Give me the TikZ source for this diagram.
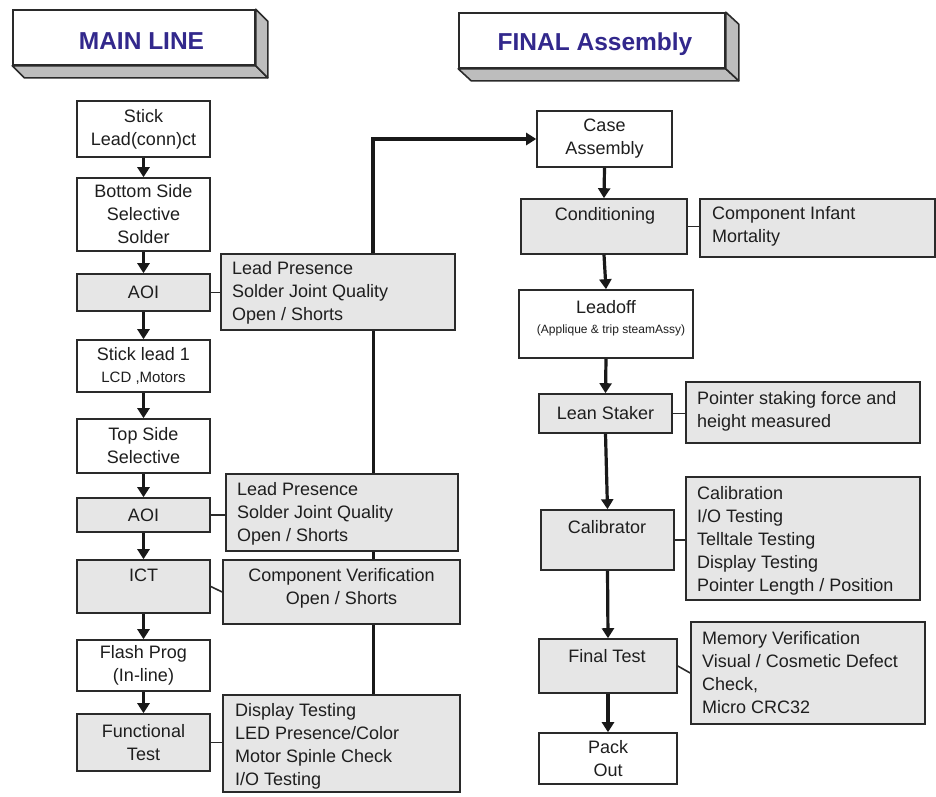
\documentclass[tikz,border=0pt]{standalone}
\usepackage{fontspec}
\setmainfont{Liberation Sans}
\usetikzlibrary{arrows.meta,backgrounds,calc}
\definecolor{bordc}{HTML}{2A2A2A}
\definecolor{boxg}{HTML}{E6E6E6}
\definecolor{shadg}{HTML}{BDBDBD}
\definecolor{headc}{RGB}{50,40,140}
\definecolor{txtc}{HTML}{1E1E1E}
\begin{document}
\begin{tikzpicture}[x=1pt,y=-1pt,
  every node/.style={text=txtc},
  fs/.style={font=\fontsize{18}{23}\selectfont},
  wbox/.style={draw=bordc, line width=1.6pt, fill=white, inner sep=0pt, align=center, fs},
  gbox/.style={wbox, fill=boxg},
  txt/.style={inner sep=0pt, align=left, fs, anchor=west},
  ctxt/.style={inner sep=0pt, align=center, fs},
  arr/.style={line width=3.2pt, draw=black!90, -{Triangle[length=10pt,width=12pt]}},
  con/.style={line width=1.6pt, draw=bordc},
  bus/.style={line width=3pt, draw=black!90},
  headbox/.style={draw=bordc, line width=1.6pt, fill=white, inner sep=0pt},
  headtxt/.style={inner sep=0pt, font=\fontsize{24.5}{28}\selectfont\bfseries, text=headc},
  face/.style={fill=shadg, draw=bordc, line width=1.6pt, line join=round}
]
\useasboundingbox (0,0) rectangle (936,796);

% headers
\node[headbox, minimum width=242pt, minimum height=55pt] (h1) at (134,37.5) {};
\filldraw[face] (h1.south west) -- ($(h1.south west)+(12,12)$) -- ($(h1.south east)+(12,12)$) -- (h1.south east) -- cycle;
\filldraw[face] (h1.north east) -- ($(h1.north east)+(12,12)$) -- ($(h1.south east)+(12,12)$) -- (h1.south east) -- cycle;
\node[headtxt] (h1t) at (141.5,41) {MAIN LINE};

\node[headbox, minimum width=266pt, minimum height=55pt] (h2) at (592,40.5) {};
\filldraw[face] (h2.south west) -- ($(h2.south west)+(13,12)$) -- ($(h2.south east)+(13,12)$) -- (h2.south east) -- cycle;
\filldraw[face] (h2.north east) -- ($(h2.north east)+(13,12)$) -- ($(h2.south east)+(13,12)$) -- (h2.south east) -- cycle;
\node[headtxt] (h2t) at (595,44) {FINAL Assembly};

% main line column
\node[wbox, minimum width=133pt, minimum height=56pt] (n1) at (143.5,129) {Stick\\Lead(conn)ct};
\node[wbox, minimum width=133pt, minimum height=73pt] (n2) at (143.5,214.5) {Bottom Side\\Selective\\Solder};
\node[gbox, minimum width=133pt, minimum height=37pt] (n3) at (143.5,292.5) {AOI};
\node[wbox, minimum width=133pt, minimum height=52pt] (n4) at (143.5,366) {Stick lead 1\\[-1pt]{\fontsize{15}{20}\selectfont LCD ,Motors}};
\node[wbox, minimum width=133pt, minimum height=54pt] (n5) at (143.5,446) {Top Side\\Selective};
\node[gbox, minimum width=133pt, minimum height=34pt] (n6) at (143.5,515) {AOI};
\node[gbox, minimum width=133pt, minimum height=53pt] (n7) at (143.5,586.5) {};
\node[ctxt] (n7t) at (143.5,575) {ICT};
\node[wbox, minimum width=133pt, minimum height=51pt] (n8) at (143.5,665.5) {Flash Prog\\(In-line)};
\node[gbox, minimum width=133pt, minimum height=57pt] (n9) at (143.5,742.5) {Functional\\Test};

% main line notes
\node[gbox, minimum width=234pt, minimum height=76pt] (m1) at (338,292) {};
\node[txt] (m1t) at (232,293) {Lead Presence\\Solder Joint Quality\\Open / Shorts};
\node[gbox, minimum width=232pt, minimum height=77pt] (m2) at (342,512.5) {};
\node[txt] (m2t) at (237,514) {Lead Presence\\Solder Joint Quality\\Open / Shorts};
\node[gbox, minimum width=237pt, minimum height=64pt] (m3) at (341.5,592) {};
\node[ctxt] (m3t) at (341.5,588.5) {Component Verification\\Open / Shorts};
\node[gbox, minimum width=237pt, minimum height=97pt] (m4) at (341.5,743.5) {};
\node[txt] (m4t) at (235,746.5) {Display Testing\\LED Presence/Color\\Motor Spinle Check\\I/O Testing};

% final assembly column
\node[wbox, minimum width=135pt, minimum height=56pt] (r1) at (604.5,139) {Case\\Assembly};
\node[gbox, minimum width=166pt, minimum height=55pt] (r2) at (604,226.5) {};
\node[ctxt] (r2t) at (605,216) {Conditioning};
\node[wbox, minimum width=174pt, minimum height=68pt] (r3) at (606,324) {};
\node[ctxt] (r3t) at (606,307) {Leadoff};
\node[ctxt, font=\fontsize{12}{14}\selectfont] (r3s) at (611,330) {(Applique \& trip steamAssy)};
\node[gbox, minimum width=133pt, minimum height=39pt] (r4) at (605.5,413.5) {Lean Staker};
\node[gbox, minimum width=133pt, minimum height=60pt] (r5) at (607.5,540) {};
\node[ctxt] (r5t) at (607,527) {Calibrator};
\node[gbox, minimum width=138pt, minimum height=54pt] (r6) at (608,666) {};
\node[ctxt] (r6t) at (607,656) {Final Test};
\node[wbox, minimum width=138pt, minimum height=51pt] (r7) at (608,758.5) {Pack\\Out};

% final assembly notes
\node[gbox, minimum width=235pt, minimum height=58pt] (r2n) at (817.5,228) {};
\node[txt] (r2nt) at (712,226.5) {Component Infant\\Mortality};
\node[gbox, minimum width=234pt, minimum height=61pt] (r4n) at (803,412.5) {};
\node[txt] (r4nt) at (697,411.5) {Pointer staking force and\\height measured};
\node[gbox, minimum width=234pt, minimum height=123pt] (r5n) at (803,538.5) {};
\node[txt] (r5nt) at (697,540.5) {Calibration\\I/O Testing\\Telltale Testing\\Display Testing\\Pointer Length / Position};
\node[gbox, minimum width=234pt, minimum height=102pt] (r6n) at (808,673) {};
\node[txt] (r6nt) at (702,672.5) {Memory Verification\\Visual / Cosmetic Defect\\Check,\\Micro CRC32};

% bus line behind the note boxes
\coordinate (vx) at (373,0);
\begin{scope}[on background layer]
\draw[bus] (m4.north -| vx) -- (m1.north -| vx);
\end{scope}
\draw[arr] (m1.north -| vx) |- (r1.west);

% main line arrows
\draw[arr] (n1.south) -- (n2.north);
\draw[arr] (n2.south) -- (n3.north);
\draw[arr] (n3.south) -- (n4.north);
\draw[arr] (n4.south) -- (n5.north);
\draw[arr] (n5.south) -- (n6.north);
\draw[arr] (n6.south) -- (n7.north);
\draw[arr] (n7.south) -- (n8.north);
\draw[arr] (n8.south) -- (n9.north);

% final assembly arrows
\draw[arr] (r1.south) -- (r2.north);
\draw[arr] (r2.south) -- (r3.north);
\draw[arr] (r3.south) -- (r4.north);
\draw[arr] (r4.south) -- (r5.north);
\draw[arr] (r5.south) -- (r6.north);
\draw[arr] (r6.south) -- (r7.north);

% connectors to notes
\draw[con] (n3.east) -- (n3.east -| m1.west);
\draw[con] (n6.east) -- (n6.east -| m2.west);
\draw[con] (n7.east) -- (m3.west);
\draw[con] (n9.east) -- (n9.east -| m4.west);
\draw[con] (r2.east) -- (r2.east -| r2n.west);
\draw[con] (r4.east) -- (r4.east -| r4n.west);
\draw[con] (r5.east) -- (r5.east -| r5n.west);
\draw[con] (r6.east) -- (r6n.west);
\end{tikzpicture}
\end{document}
